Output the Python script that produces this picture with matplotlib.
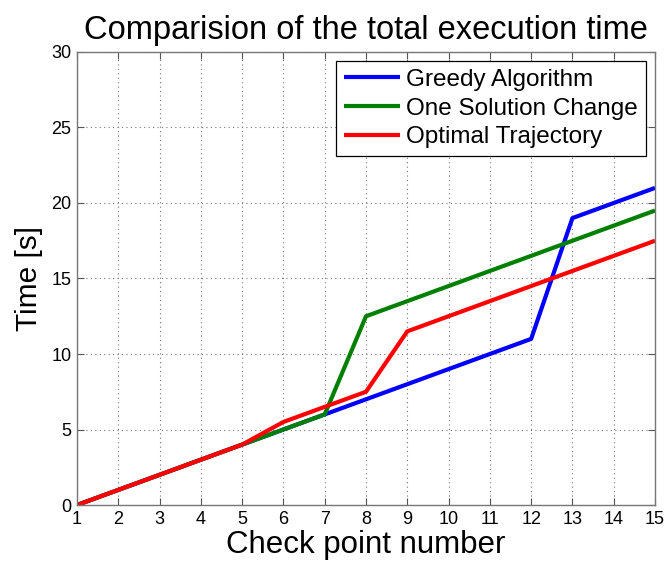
import matplotlib
matplotlib.use("Agg")
import matplotlib.pyplot as plt

plt.rcParams['font.family'] = ['Liberation Sans', 'DejaVu Sans']

checkpoints = list(range(1, 16))
greedy = [0, 1, 2, 3, 4, 5, 6, 7, 8, 9, 10, 11, 19, 20, 21]
one_change = [0, 1, 2, 3, 4, 5, 6, 12.5, 13.5, 14.5, 15.5, 16.5, 17.5, 18.5, 19.5]
optimal = [0, 1, 2, 3, 4, 5.5, 6.5, 7.5, 11.5, 12.5, 13.5, 14.5, 15.5, 16.5, 17.5]

series = [
    ("Greedy Algorithm", greedy, "#0000ff"),
    ("One Solution Change", one_change, "#008000"),
    ("Optimal Trajectory", optimal, "#ff0000"),
]

fig = plt.figure(figsize=(6.66, 5.62), dpi=100)
ax = fig.add_axes([0.1156, 0.1014, 0.8679, 0.8061])

for name, vals, col in series:
    ax.plot(checkpoints, vals, color=col, linewidth=3.0, label=name, solid_capstyle='butt')

ax.set_xlim(1, 15)
ax.set_ylim(0, 30)
ax.set_xticks(checkpoints)
ax.set_yticks([0, 5, 10, 15, 20, 25, 30])
ax.grid(True, linestyle=(0, (1, 3)), color='#777777', linewidth=0.8)
ax.tick_params(direction='in', top=True, right=True, length=5, width=0.8,
               colors='#555555', labelcolor='black', labelsize=13, pad=4)
for s in ax.spines.values():
    s.set_color('#777777')
    s.set_linewidth(1.0)

ax.set_title("Comparision of the total execution time", fontsize=23.5, pad=9)
ax.set_xlabel("Check point number", fontsize=22.5, labelpad=2)
ax.set_ylabel("Time [s]", fontsize=21.5, labelpad=6)

leg = ax.legend(loc='upper right', fontsize=17.5, handlelength=2.3, handletextpad=0.25,
                borderpad=0.32, labelspacing=0.28, borderaxespad=0, fancybox=False,
                framealpha=1, edgecolor='black', bbox_to_anchor=(0.984, 0.98))
leg.get_frame().set_linewidth(0.9)

fig.savefig("out.png", dpi=100)
